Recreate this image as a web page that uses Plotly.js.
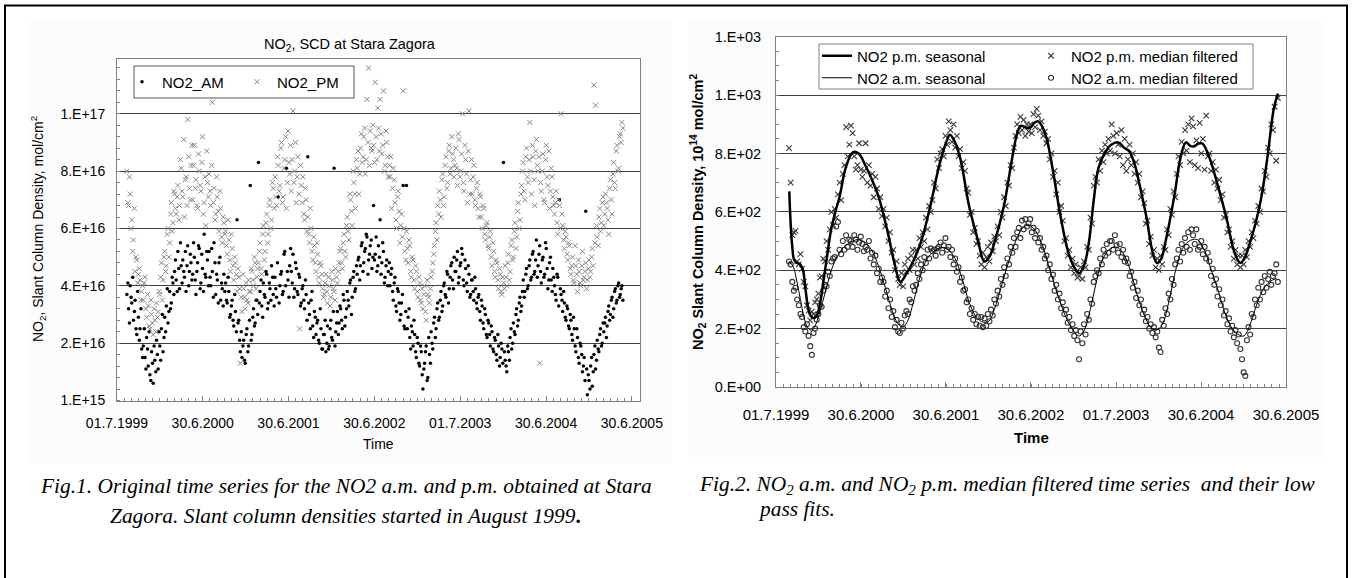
<!DOCTYPE html>
<html><head><meta charset="utf-8">
<script src="https://cdn.plot.ly/plotly-3.0.1.min.js"></script>
<style>html,body{margin:0;padding:0;background:#fff;}#chart{width:1354px;height:578px;}</style>
</head><body><div id="chart"></div>
<script>
// ---------- DATA (days since 01.7.1999) ----------
const tickDays = [0, 365, 730, 1095, 1461, 1826, 2191];
const tickLabels = ['01.7.1999','30.6.2000','30.6.2001','30.6.2002','01.7.2003','30.6.2004','30.6.2005'];
const leftYTicks = [1e15, 2.1e16, 4.1e16, 6.1e16, 8.1e16, 1.01e17];
const leftYLabels = ['1.E+15','2.E+16','4.E+16','6.E+16','8.E+16','1.E+17'];
const rightYTicks = [0, 200, 400, 600, 800, 1000, 1200];
const rightYLabels = ['0.E+00','2.E+02','4.E+02','6.E+02','8.E+02','1.E+03','1.E+03'];

const obsDay = [
42,49,56,63,70,77,84,91,98,105,
112,119,126,133,140,147,154,161,168,175,
182,189,196,203,210,217,224,231,238,245,
252,259,266,273,280,287,294,301,308,315,
322,329,336,343,350,357,364,371,378,385,
392,399,406,413,420,427,434,441,448,455,
462,469,476,483,490,497,504,511,518,525,
532,539,546,553,560,567,574,581,588,595,
602,609,616,623,630,637,644,651,658,665,
672,679,686,693,700,707,714,721,728,735,
742,749,756,763,770,777,784,791,798,805,
812,819,826,833,840,847,854,861,868,875,
882,889,896,903,910,917,924,931,938,945,
952,959,966,973,980,987,994,1001,1008,1015,
1022,1029,1036,1043,1050,1057,1064,1071,1078,1085,
1092,1099,1106,1113,1120,1127,1134,1141,1148,1155,
1162,1169,1176,1183,1190,1197,1204,1211,1218,1225,
1232,1239,1246,1253,1260,1267,1274,1281,1288,1295,
1302,1309,1316,1323,1330,1337,1344,1351,1358,1365,
1372,1379,1386,1393,1400,1407,1414,1421,1428,1435,
1442,1449,1456,1463,1470,1477,1484,1491,1498,1505,
1512,1519,1526,1533,1540,1547,1554,1561,1568,1575,
1582,1589,1596,1603,1610,1617,1624,1631,1638,1645,
1652,1659,1666,1673,1680,1687,1694,1701,1708,1715,
1722,1729,1736,1743,1750,1757,1764,1771,1778,1785,
1792,1799,1806,1813,1820,1827,1834,1841,1848,1855,
1862,1869,1876,1883,1890,1897,1904,1911,1918,1925,
1932,1939,1946,1953,1960,1967,1974,1981,1988,1995,
2002,2009,2016,2023,2030,2037,2044,2051,2058,2065,
2072,2079,2086,2093,2100,2107,2114,2121,2128,2135,
2142,2149,2156];

// second set of daily observations (Fig.1)
const obsDay2 = [
46,53,60,67,74,81,88,95,102,109,
116,123,130,137,144,151,158,165,172,179,
186,193,200,207,214,221,228,235,242,249,
256,263,270,277,284,291,298,305,312,319,
326,333,340,347,354,361,368,375,382,389,
396,403,410,417,424,431,438,445,452,459,
466,473,480,487,494,501,508,515,522,529,
536,543,550,557,564,571,578,585,592,599,
606,613,620,627,634,641,648,655,662,669,
676,683,690,697,704,711,718,725,732,739,
746,753,760,767,774,781,788,795,802,809,
816,823,830,837,844,851,858,865,872,879,
886,893,900,907,914,921,928,935,942,949,
956,963,970,977,984,991,998,1005,1012,1019,
1026,1033,1040,1047,1054,1061,1068,1075,1082,1089,
1096,1103,1110,1117,1124,1131,1138,1145,1152,1159,
1166,1173,1180,1187,1194,1201,1208,1215,1222,1229,
1236,1243,1250,1257,1264,1271,1278,1285,1292,1299,
1306,1313,1320,1327,1334,1341,1348,1355,1362,1369,
1376,1383,1390,1397,1404,1411,1418,1425,1432,1439,
1446,1453,1460,1467,1474,1481,1488,1495,1502,1509,
1516,1523,1530,1537,1544,1551,1558,1565,1572,1579,
1586,1593,1600,1607,1614,1621,1628,1635,1642,1649,
1656,1663,1670,1677,1684,1691,1698,1705,1712,1719,
1726,1733,1740,1747,1754,1761,1768,1775,1782,1789,
1796,1803,1810,1817,1824,1831,1838,1845,1852,1859,
1866,1873,1880,1887,1894,1901,1908,1915,1922,1929,
1936,1943,1950,1957,1964,1971,1978,1985,1992,1999,
2006,2013,2020,2027,2034,2041,2048,2055,2062,2069,
2076,2083,2090,2097,2104,2111,2118,2125,2132,2139,
2146,2153,2160];

// Fig.1 raw slant column densities, in units of 1E16 mol/cm2
const amRaw = [
3.8,3.3,4.1,3.5,2.9,3.6,2.4,3.0,2.6,1.9,
2.0,1.6,2.3,1.3,1.0,1.8,0.7,1.5,2.2,1.2,
2.0,2.6,1.8,3.0,3.4,2.8,3.9,3.5,4.2,4.6,
4.3,5.3,4.0,4.8,5.0,4.4,3.9,5.5,4.6,4.9,
4.5,5.1,3.8,4.9,5.4,4.2,4.7,5.9,4.4,5.0,
5.3,4.1,4.6,5.6,3.8,4.3,4.9,3.6,4.0,4.5,
4.2,3.5,3.9,3.1,3.6,2.7,3.2,6.4,2.9,1.8,
1.6,2.2,1.4,2.6,2.0,7.6,2.4,3.3,2.8,3.6,
8.4,3.9,3.4,4.2,3.7,4.5,3.5,4.0,4.8,3.8,
4.4,3.7,7.2,4.1,4.6,3.9,5.3,8.2,4.3,4.8,
4.6,5.2,4.0,4.7,3.8,4.4,3.5,4.1,3.3,3.8,
8.6,3.1,3.6,2.7,3.2,2.4,2.9,2.1,2.6,1.9,
2.4,1.8,2.7,2.0,2.9,2.2,8.2,2.5,3.2,2.8,
3.3,2.6,3.6,3.0,3.9,3.4,4.3,3.7,4.6,4.0,
4.5,5.1,4.8,5.6,4.9,5.4,5.8,5.0,5.5,4.7,
6.9,5.2,4.6,5.5,6.4,4.9,5.3,4.4,5.0,4.6,
4.1,4.7,3.6,4.4,3.2,3.9,2.9,3.5,7.6,2.6,
7.6,3.0,2.3,2.7,2.0,2.4,1.6,2.1,1.3,1.8,
0.5,1.4,2.0,0.9,1.7,2.5,1.9,3.0,2.6,3.5,
3.0,3.9,3.4,4.2,3.7,4.5,4.0,4.8,4.3,5.1,
4.6,5.3,4.4,4.9,5.2,4.1,4.7,3.9,4.5,3.8,
4.3,3.6,4.0,3.3,3.8,2.9,3.4,2.6,3.1,2.3,
2.8,2.0,2.5,1.8,2.2,1.5,2.0,1.6,1.9,8.4,
1.5,1.1,1.8,2.3,1.9,2.8,2.4,3.3,2.9,3.7,
3.4,4.3,3.9,4.7,4.1,5.0,4.4,5.3,4.6,5.7,
4.8,5.5,4.2,5.1,4.5,5.4,4.0,4.9,4.3,4.7,
4.1,3.6,4.4,7.1,3.8,3.2,3.5,2.9,3.3,2.6,
2.9,2.2,2.6,1.8,2.3,1.4,2.0,1.1,1.6,6.7,
0.3,0.8,1.3,0.6,1.7,1.2,2.2,1.8,2.6,2.1,
2.5,3.0,2.7,3.4,3.1,3.7,3.3,4.0,3.6,4.2,
3.8,4.1,null];

const amRaw2 = [
4.2,2.8,3.7,4.4,3.2,2.6,3.9,2.2,3.3,1.6,
2.6,1.2,1.9,2.5,0.8,1.4,2.0,1.1,1.7,2.5,
1.5,3.1,2.3,2.5,4.0,3.2,3.3,4.4,3.8,5.0,
3.9,4.7,5.6,4.2,4.6,5.3,4.8,4.1,5.2,4.3,
5.6,4.3,4.6,5.5,4.0,5.2,3.9,4.5,5.3,4.1,
4.4,5.4,3.7,4.9,4.5,3.5,5.1,4.2,3.4,3.9,
3.6,4.4,3.0,3.4,2.9,3.8,2.5,2.8,2.2,2.5,
2.0,1.5,2.4,1.8,2.9,2.2,3.0,2.7,3.6,3.1,
3.5,4.3,3.0,3.8,4.6,3.3,4.2,3.6,4.4,3.4,
4.0,4.9,3.5,4.5,3.8,5.2,4.1,4.6,3.7,5.4,
4.2,3.7,4.9,3.9,4.5,3.4,4.0,3.6,4.3,2.9,
3.5,2.6,3.9,2.3,3.0,2.8,2.2,3.3,1.9,2.4,
2.9,2.1,1.9,2.6,2.3,3.2,2.0,2.8,2.4,3.4,
2.9,3.8,2.7,3.3,3.6,4.2,3.1,4.4,3.9,4.8,
5.0,4.3,5.5,4.6,5.3,5.9,4.5,5.2,5.7,5.1,
5.0,5.8,4.8,5.1,4.5,5.6,4.2,4.8,4.1,4.9,
4.5,3.9,4.2,3.4,4.0,3.5,3.1,3.8,2.7,3.2,
2.6,3.3,1.9,2.5,2.9,1.8,2.3,1.4,2.0,1.0,
1.2,1.8,0.8,2.3,1.4,2.1,2.8,2.3,3.3,2.9,
3.6,3.2,4.1,3.8,4.6,3.5,4.4,4.9,4.0,4.6,
5.0,4.2,4.8,5.4,4.3,5.0,4.2,4.8,3.7,4.3,
3.9,4.4,3.5,3.7,3.2,3.6,2.8,3.3,2.4,2.9,
2.4,2.7,1.9,2.3,1.7,2.4,1.3,2.1,1.4,1.8,
1.3,2.0,1.5,2.6,2.1,2.5,3.1,2.7,3.5,3.2,
3.9,3.7,4.5,4.0,4.8,4.3,5.2,4.5,5.0,4.4,
5.2,4.6,5.0,4.4,5.6,4.7,4.3,5.1,3.9,4.4,
3.8,4.5,3.4,4.0,3.6,3.9,3.0,3.4,2.7,3.1,
2.4,3.0,2.0,2.6,1.6,2.1,1.7,1.3,0.8,1.2,
1.0,0.5,1.6,1.1,2.0,1.5,1.9,2.4,2.0,2.8,
2.8,2.3,3.2,2.9,3.6,3.0,3.9,3.5,4.1,3.7,
4.0,3.6,null];

const pmRaw = [
8.1,6.9,7.3,6.4,5.7,4.6,5.0,4.5,4.3,3.9,
3.6,4.4,3.0,3.4,2.6,3.1,2.4,2.9,3.5,3.2,
3.8,4.9,4.3,5.3,4.8,6.1,5.6,7.0,6.3,7.3,
6.6,7.6,6.9,8.2,7.2,6.5,7.9,9.9,7.5,8.3,
7.1,9.0,7.8,6.8,8.1,7.4,9.3,7.0,6.2,7.7,
8.0,6.9,10.5,7.5,6.6,7.2,6.0,6.8,5.6,6.3,
6.0,5.2,5.7,4.6,5.4,4.3,4.9,3.9,4.4,1.4,
3.2,4.0,3.3,3.6,4.3,3.9,4.6,4.1,4.9,4.4,
4.9,5.6,4.5,6.2,5.3,6.6,5.9,7.1,6.4,7.5,
7.9,6.9,8.3,7.6,9.1,7.2,8.5,6.8,9.5,8.0,
7.4,10.2,8.1,7.0,8.6,2.6,7.6,7.9,6.4,7.1,
6.5,5.6,6.1,5.0,5.5,4.6,5.2,4.2,4.8,4.0,
3.8,4.5,3.5,4.1,3.7,4.3,3.9,4.7,4.2,4.9,
5.4,4.7,5.9,5.1,6.5,5.7,7.1,6.2,7.7,6.8,
8.2,7.3,8.9,8.4,9.3,8.0,10.6,11.7,9.5,8.8,
9.0,11.2,8.5,9.6,10.6,8.7,10.9,8.3,9.1,7.9,
7.9,6.8,8.2,7.0,6.1,7.4,5.6,6.6,10.9,5.3,
6.0,4.9,5.5,4.4,5.0,4.0,4.6,3.7,4.2,3.5,
3.3,4.1,2.9,3.8,3.5,4.4,4.9,5.5,6.3,6.9,
7.4,6.5,8.0,7.2,8.6,7.7,9.0,8.2,8.7,7.9,
8.9,7.6,9.2,8.1,10.1,7.4,8.5,7.0,10.2,7.8,
7.3,8.3,6.9,7.7,6.5,7.2,6.1,6.8,5.7,6.3,
5.4,6.0,4.8,5.3,4.4,4.9,4.0,4.5,3.8,4.2,
4.8,4.1,5.2,4.6,5.7,5.1,6.3,5.8,7.0,6.4,
7.6,8.4,7.1,8.9,7.7,9.8,7.3,8.6,6.9,9.2,
8.1,1.4,7.4,8.7,7.0,9.0,7.6,6.8,8.2,7.2,
6.6,7.4,5.9,6.9,10.1,6.2,5.4,5.8,5.0,5.5,
4.5,5.1,4.2,4.8,3.9,4.6,4.1,5.3,4.4,4.9,
4.3,5.0,4.6,5.4,11.1,10.4,5.8,6.5,6.0,7.0,
6.2,7.3,6.8,5.9,7.8,6.6,8.4,7.5,9.0,8.2,
9.4,9.8,null];

const pmRaw2 = [
7.0,7.9,6.1,5.3,6.8,5.1,4.2,4.7,3.6,4.1,
4.2,3.3,3.8,2.7,3.6,2.8,3.3,2.5,3.0,3.9,
4.4,3.6,5.1,4.6,5.9,5.1,6.6,6.0,7.4,6.8,
7.2,6.4,8.5,7.4,9.2,7.8,6.9,8.6,7.1,9.0,
8.3,7.5,6.9,8.7,7.6,8.4,6.6,7.9,8.8,7.2,
7.4,8.3,7.0,6.4,7.9,6.7,7.4,5.8,6.5,5.9,
5.5,6.4,5.0,5.9,4.8,5.1,4.5,4.7,4.0,3.7,
4.5,3.7,4.2,3.5,3.9,4.7,4.3,5.1,4.0,4.7,
5.3,4.7,5.9,5.0,6.3,5.6,6.9,6.1,7.7,6.8,
7.2,8.6,7.4,8.9,7.0,8.2,9.3,7.7,8.4,9.0,
8.5,7.7,9.1,7.9,7.3,8.3,7.0,6.6,7.5,6.0,
5.9,6.8,5.3,5.8,4.9,5.6,4.4,4.9,4.5,3.7,
4.2,3.9,4.4,3.4,4.6,4.0,3.6,4.4,4.6,5.3,
4.9,5.6,5.3,6.2,6.0,7.3,6.7,8.1,7.3,8.5,
8.8,8.0,9.4,8.6,9.6,8.5,9.1,8.3,8.9,9.7,
8.4,9.3,10.3,8.8,9.4,9.0,8.1,9.5,8.6,8.3,
8.6,7.5,7.8,6.4,7.2,6.7,6.2,5.8,6.1,5.0,
5.4,5.7,4.6,5.1,4.3,4.8,3.9,4.4,3.6,4.0,
3.8,3.2,4.3,3.7,4.0,4.6,5.2,6.0,5.7,6.6,
7.1,7.8,6.9,8.3,7.5,8.8,8.0,9.3,8.5,8.3,
8.2,9.4,7.9,8.7,7.7,9.0,8.0,8.8,7.3,8.5,
7.9,7.1,7.5,6.8,7.3,6.5,6.9,5.9,6.2,5.5,
5.8,5.1,5.6,4.6,5.0,4.3,4.7,3.9,4.4,4.0,
4.4,4.9,4.3,5.5,5.0,6.0,5.4,6.7,6.1,7.3,
8.1,7.4,8.6,7.9,8.5,8.1,9.0,7.8,8.8,8.3,
8.6,7.7,8.1,7.1,8.5,7.9,8.8,7.4,7.9,6.9,
7.0,6.3,7.1,6.1,6.6,5.7,6.0,5.2,5.6,4.7,
4.8,4.3,5.5,4.5,5.0,4.2,4.8,4.3,4.6,4.0,
4.7,4.4,5.1,4.8,5.6,6.2,5.5,6.8,6.3,7.2,
6.6,7.0,6.4,7.5,7.1,8.0,7.7,8.8,8.1,9.3,
9.1,9.6,null];

// Fig.2 median filtered values, in units of 1E14 mol/cm2
const pmMed = [
null,null,818,700,520,530,535,430,420,455,
405,360,345,280,262,228,258,250,290,300,
320,375,380,440,430,500,470,540,600,555,
610,580,660,700,640,730,760,890,790,830,
895,870,790,745,760,835,745,720,740,835,
700,760,690,730,650,720,680,610,650,585,
610,550,580,500,530,460,470,400,430,370,
350,390,345,420,395,440,400,450,470,420,
470,440,510,480,530,500,580,540,620,600,
640,700,680,780,750,800,815,790,860,830,
910,880,840,900,820,860,790,815,750,770,
740,680,665,590,600,530,545,490,500,450,
420,460,410,445,480,430,495,465,515,500,
550,520,600,580,650,620,700,690,760,750,
820,860,900,870,925,880,915,860,900,875,
900,870,935,890,953,930,880,910,860,875,
835,850,780,800,720,740,660,700,600,620,
570,500,510,450,470,410,440,390,420,375,
380,410,370,430,410,480,470,580,560,690,
720,700,780,740,810,770,830,800,850,810,
900,860,800,870,830,790,880,760,850,740,
780,830,760,800,730,770,700,730,650,670,
630,560,570,490,515,450,470,410,440,400,
450,420,480,470,540,520,610,590,670,650,
730,790,760,840,800,880,810,900,770,920,
893,760,845,750,905,800,850,745,930,790,
800,740,770,700,745,680,710,640,660,580,
590,530,540,480,500,440,470,420,450,410,
450,420,470,445,500,480,530,510,570,560,
620,600,680,670,740,720,820,800,900,880,
960,775,990];

const amMed = [
null,null,430,420,360,330,340,300,280,250,
240,205,190,215,175,140,110,185,200,230,
250,280,275,330,350,345,395,380,430,440,
445,550,565,470,455,500,470,520,480,505,
500,480,520,505,470,495,515,490,465,480,
470,500,440,460,420,450,390,405,360,375,
360,310,330,270,300,240,260,205,230,190,
185,220,200,245,260,250,300,290,345,330,
350,390,370,420,400,445,425,470,440,475,
465,470,450,475,480,495,460,485,510,470,
480,445,470,420,440,395,410,360,375,330,
335,290,300,250,270,230,250,215,240,210,
240,205,235,210,250,225,265,245,300,285,
330,310,370,350,410,380,440,420,480,460,
510,480,530,545,510,570,540,575,550,560,
575,530,545,510,535,495,510,470,480,440,
450,400,420,370,385,330,350,300,320,270,
290,250,265,220,240,195,215,175,195,160,
95,190,150,215,180,250,230,300,285,360,
380,400,390,440,420,470,450,490,460,500,
500,470,520,485,460,490,445,470,430,440,
425,380,395,340,360,305,330,280,300,250,
265,225,240,200,215,185,205,170,190,135,
120,230,210,270,250,320,300,370,350,420,
440,470,430,490,460,510,480,530,470,540,
520,490,540,470,480,500,455,480,440,460,
430,380,405,350,370,310,335,280,300,245,
260,215,235,190,210,170,195,150,180,130,
95,50,38,160,205,180,250,240,300,280,
340,300,360,325,380,340,370,395,350,380,
390,420,360];

// Low-pass (seasonal) fits, 1E14 mol/cm2
const pmFitDay = [57,63,70,78,90,104,116,126,136,146,160,175,190,205,218,237,255,274,300,330,355,385,415,441,478,510,534,558,589,626,663,700,730,747,768,793,830,867,895,918,942,979,1016,1040,1053,1075,1090,1110,1127,1145,1164,1190,1220,1257,1285,1303,1325,1345,1365,1385,1415,1440,1470,1495,1517,1540,1560,1591,1619,1637,1655,1674,1711,1739,1761,1780,1795,1815,1832,1860,1887,1910,1934,1971,1995,2015,2036,2060,2085,2110,2138,2156];
const pmFit    = [670,560,480,435,425,420,400,340,280,248,236,245,290,370,440,540,600,655,752,804,800,757,705,651,537,420,360,385,430,505,620,755,835,864,840,778,618,504,430,448,505,620,790,880,895,888,887,905,910,890,847,740,595,458,405,390,420,500,640,750,805,830,838,820,808,765,700,584,458,425,440,500,653,790,838,826,824,834,834,790,722,655,584,458,425,445,494,560,650,780,951,1005];
const amFitDay = [57,75,90,105,120,135,150,165,180,200,220,240,265,290,320,350,380,410,440,470,500,525,545,565,590,620,650,680,710,740,770,800,830,860,890,915,940,970,1000,1030,1060,1085,1110,1140,1170,1200,1230,1260,1290,1305,1325,1350,1375,1400,1430,1460,1490,1520,1550,1580,1610,1635,1660,1690,1720,1750,1780,1810,1840,1870,1900,1930,1960,1990,2010,2035,2060,2090,2120,2150];
const amFit    = [430,410,360,300,240,205,195,205,235,290,350,405,450,478,495,505,497,470,415,340,260,215,205,225,290,380,440,465,478,470,440,370,290,240,222,226,270,350,430,500,545,555,540,495,420,340,270,215,180,175,195,265,355,430,470,480,460,405,320,250,205,195,215,300,410,480,502,505,470,400,330,250,200,178,175,210,270,330,360,372];

// ---------- CHART ----------
const W = 1354, H = 578;
const fx = p => p / W;
const fy = p => 1 - p / H;
const FONT = 'Liberation Sans, Arial, sans-serif';
const SERIF = 'Liberation Serif, Times New Roman, serif';
const toSCD = a => a.map(v => v === null ? null : v * 1e16);

const amMarker = {symbol:'circle', size:3.5, color:'#000'};
const pmMarker = {symbol:'x-thin', size:5, color:'#858585', line:{width:1, color:'#858585'}};

const traces = [
  {type:'scatter', mode:'markers', name:'NO2_AM', x:obsDay, y:toSCD(amRaw), xaxis:'x', yaxis:'y',
   marker:amMarker, legend:'legend', legendrank:1, legendgroup:'am'},
  {type:'scatter', mode:'markers', name:'NO2_AM', x:obsDay2, y:toSCD(amRaw2), xaxis:'x', yaxis:'y',
   marker:amMarker, showlegend:false, legendgroup:'am'},
  {type:'scatter', mode:'markers', name:'NO2_PM', x:obsDay, y:toSCD(pmRaw), xaxis:'x', yaxis:'y',
   marker:pmMarker, legend:'legend', legendrank:2, legendgroup:'pm'},
  {type:'scatter', mode:'markers', name:'NO2_PM', x:obsDay2, y:toSCD(pmRaw2), xaxis:'x', yaxis:'y',
   marker:pmMarker, showlegend:false, legendgroup:'pm'},
  {type:'scatter', mode:'markers', name:'NO2 a.m. median filtered', x:obsDay, y:amMed, xaxis:'x2', yaxis:'y2',
   marker:{symbol:'circle-open', size:5, color:'#333', line:{width:1.1, color:'#333'}}, legend:'legend3', legendrank:2},
  {type:'scatter', mode:'markers', name:'NO2 p.m. median filtered', x:obsDay, y:pmMed, xaxis:'x2', yaxis:'y2',
   marker:{symbol:'x-thin', size:5.5, color:'#3a3a3a', line:{width:1.1, color:'#3a3a3a'}}, legend:'legend2', legendrank:2},
  {type:'scatter', mode:'lines', name:'NO2 a.m. seasonal', x:amFitDay, y:amFit, xaxis:'x2', yaxis:'y2',
   line:{color:'#000', width:1, shape:'spline', smoothing:1}, legend:'legend3', legendrank:1},
  {type:'scatter', mode:'lines', name:'NO2 p.m. seasonal', x:pmFitDay, y:pmFit, xaxis:'x2', yaxis:'y2',
   line:{color:'#000', width:2.5, shape:'spline', smoothing:1}, legend:'legend2', legendrank:1}
];

const axBase = {
  showline:true, mirror:true, linecolor:'#808080', linewidth:1, zeroline:false,
  tickfont:{family:FONT, size:14, color:'#000'}, fixedrange:true
};

const layout = {
  width:W, height:H, margin:{l:0,r:0,t:0,b:0},
  paper_bgcolor:'#fff', plot_bgcolor:'#fff', hovermode:false,
  xaxis: Object.assign({}, axBase, {
    domain:[fx(117), fx(640)], range:[0, 2226], anchor:'y',
    tickmode:'array', tickvals:tickDays, ticktext:tickLabels,
    ticks:'inside', ticklen:5, tickcolor:'#808080', showgrid:false, ticklabelstandoff:10,
    minor:{tickmode:'linear', tick0:0, dtick:30.4375, ticks:'inside', ticklen:3, tickcolor:'#808080', showgrid:false}
  }),
  yaxis: Object.assign({}, axBase, {
    domain:[fy(400.5), fy(59.3)], range:[1e15, 1.2e17], anchor:'x',
    tickmode:'array', tickvals:leftYTicks, ticktext:leftYLabels,
    ticks:'', showgrid:true, gridcolor:'#404040', gridwidth:1, ticklabelstandoff:8,
    minor:{tickmode:'linear', tick0:1e15, dtick:4e15, ticks:'inside', ticklen:3, tickcolor:'#808080', showgrid:false}
  }),
  xaxis2: Object.assign({}, axBase, {
    domain:[fx(776), fx(1286)], range:[0, 2191], anchor:'y2',
    tickmode:'array', tickvals:tickDays, ticktext:tickLabels,
    tickfont:{family:FONT, size:15, color:'#000'},
    ticks:'inside', ticklen:5, tickcolor:'#808080', showgrid:false, ticklabelstandoff:14,
    minor:{tickmode:'linear', tick0:0, dtick:30.4375, ticks:'inside', ticklen:3, tickcolor:'#808080', showgrid:false}
  }),
  yaxis2: Object.assign({}, axBase, {
    domain:[fy(387), fy(36.7)], range:[0, 1200], anchor:'x2',
    tickmode:'array', tickvals:rightYTicks, ticktext:rightYLabels,
    tickfont:{family:FONT, size:14.5, color:'#000'},
    ticks:'', showgrid:true, gridcolor:'#404040', gridwidth:1, ticklabelstandoff:11,
    minor:{tickmode:'linear', tick0:0, dtick:50, ticks:'inside', ticklen:3, tickcolor:'#808080', showgrid:false}
  }),
  legend: {x:fx(122), y:fy(82), xanchor:'left', yanchor:'middle', orientation:'h',
    bgcolor:'rgba(0,0,0,0)', borderwidth:0, font:{family:FONT, size:15, color:'#000'},
    entrywidth:70, itemwidth:30, traceorder:'normal'},
  legend2: {x:fx(817), y:fy(56), xanchor:'left', yanchor:'middle', orientation:'h',
    bgcolor:'rgba(0,0,0,0)', borderwidth:0, font:{family:FONT, size:15, color:'#000'},
    entrywidth:169, itemwidth:30, traceorder:'normal'},
  legend3: {x:fx(817), y:fy(78), xanchor:'left', yanchor:'middle', orientation:'h',
    bgcolor:'rgba(0,0,0,0)', borderwidth:0, font:{family:FONT, size:15, color:'#000'},
    entrywidth:169, itemwidth:30, traceorder:'normal'},
  shapes: [
    {type:'rect', xref:'paper', yref:'paper', x0:fx(27), x1:fx(672), y0:fy(463), y1:fy(20), fillcolor:'#fcfcfc', line:{width:0}, layer:'below'},
    {type:'rect', xref:'paper', yref:'paper', x0:fx(688), x1:fx(1325), y0:fy(457), y1:fy(20), fillcolor:'#fcfcfc', line:{width:0}, layer:'below'},
    {type:'rect', xref:'paper', yref:'paper', x0:fx(117), x1:fx(640), y0:fy(400.5), y1:fy(59.3), fillcolor:'#fff', line:{width:0}, layer:'below'},
    {type:'rect', xref:'paper', yref:'paper', x0:fx(776), x1:fx(1286), y0:fy(387), y1:fy(36.7), fillcolor:'#fff', line:{width:0}, layer:'below'},
    {type:'rect', xref:'paper', yref:'paper', x0:fx(134), x1:fx(354), y0:fy(98), y1:fy(66), fillcolor:'#fff', line:{width:1, color:'#555'}, layer:'above'},
    {type:'rect', xref:'paper', yref:'paper', x0:fx(819), x1:fx(1253), y0:fy(89), y1:fy(44), fillcolor:'#fff', line:{width:1, color:'#808080'}, layer:'above'},
    {type:'path', xref:'paper', yref:'paper', path:`M ${fx(5)} ${fy(578)} L ${fx(5)} ${fy(5.5)} L ${fx(1347)} ${fy(5.5)} L ${fx(1347)} ${fy(578)}`, line:{width:2, color:'#000'}, layer:'above'}
  ],
  annotations: [
    {text:'NO<sub>2</sub>, SCD at Stara Zagora', x:fx(350), y:fy(45), xref:'paper', yref:'paper', xanchor:'center', yanchor:'middle', showarrow:false, font:{family:FONT, size:14.5, color:'#000'}},
    {text:'NO<sub>2</sub>, Slant Column Density, mol/cm<sup>2</sup>', x:fx(38), y:fy(229), xref:'paper', yref:'paper', xanchor:'center', yanchor:'middle', textangle:-90, showarrow:false, font:{family:FONT, size:14, color:'#000'}},
    {text:'Time', x:fx(378.5), y:fy(444), xref:'paper', yref:'paper', xanchor:'center', yanchor:'middle', showarrow:false, font:{family:FONT, size:14, color:'#000'}},
    {text:'<b>NO<sub>2</sub> Slant Column Density, 10<sup>14</sup> mol/cm<sup>2</sup></b>', x:fx(698), y:fy(212), xref:'paper', yref:'paper', xanchor:'center', yanchor:'middle', textangle:-90, showarrow:false, font:{family:FONT, size:14.5, color:'#000'}},
    {text:'<b>Time</b>', x:fx(1031), y:fy(437), xref:'paper', yref:'paper', xanchor:'center', yanchor:'middle', showarrow:false, font:{family:FONT, size:15, color:'#000'}},
    {text:'<i>Fig.1. Original time series for the NO2 a.m. and p.m. obtained at Stara</i>', x:fx(346), y:fy(486), xref:'paper', yref:'paper', xanchor:'center', yanchor:'middle', showarrow:false, font:{family:SERIF, size:21.4, color:'#000'}},
    {text:'<i>Zagora. Slant column densities started in August 1999</i><b>.</b>', x:fx(345), y:fy(516), xref:'paper', yref:'paper', xanchor:'center', yanchor:'middle', showarrow:false, font:{family:SERIF, size:21.4, color:'#000'}},
    {text:'<i>Fig.2. NO<sub>2</sub> a.m. and NO<sub>2</sub> p.m. median filtered time series&nbsp; and their low</i>', x:fx(697), y:fy(485), xref:'paper', yref:'paper', xanchor:'left', yanchor:'middle', showarrow:false, font:{family:SERIF, size:21.4, color:'#000'}},
    {text:'<i>pass fits.</i>', x:fx(756), y:fy(509), xref:'paper', yref:'paper', xanchor:'left', yanchor:'middle', showarrow:false, font:{family:SERIF, size:21.4, color:'#000'}}
  ]
};

Plotly.newPlot('chart', traces, layout, {displayModeBar:false, staticPlot:true});
</script>
</body></html>
